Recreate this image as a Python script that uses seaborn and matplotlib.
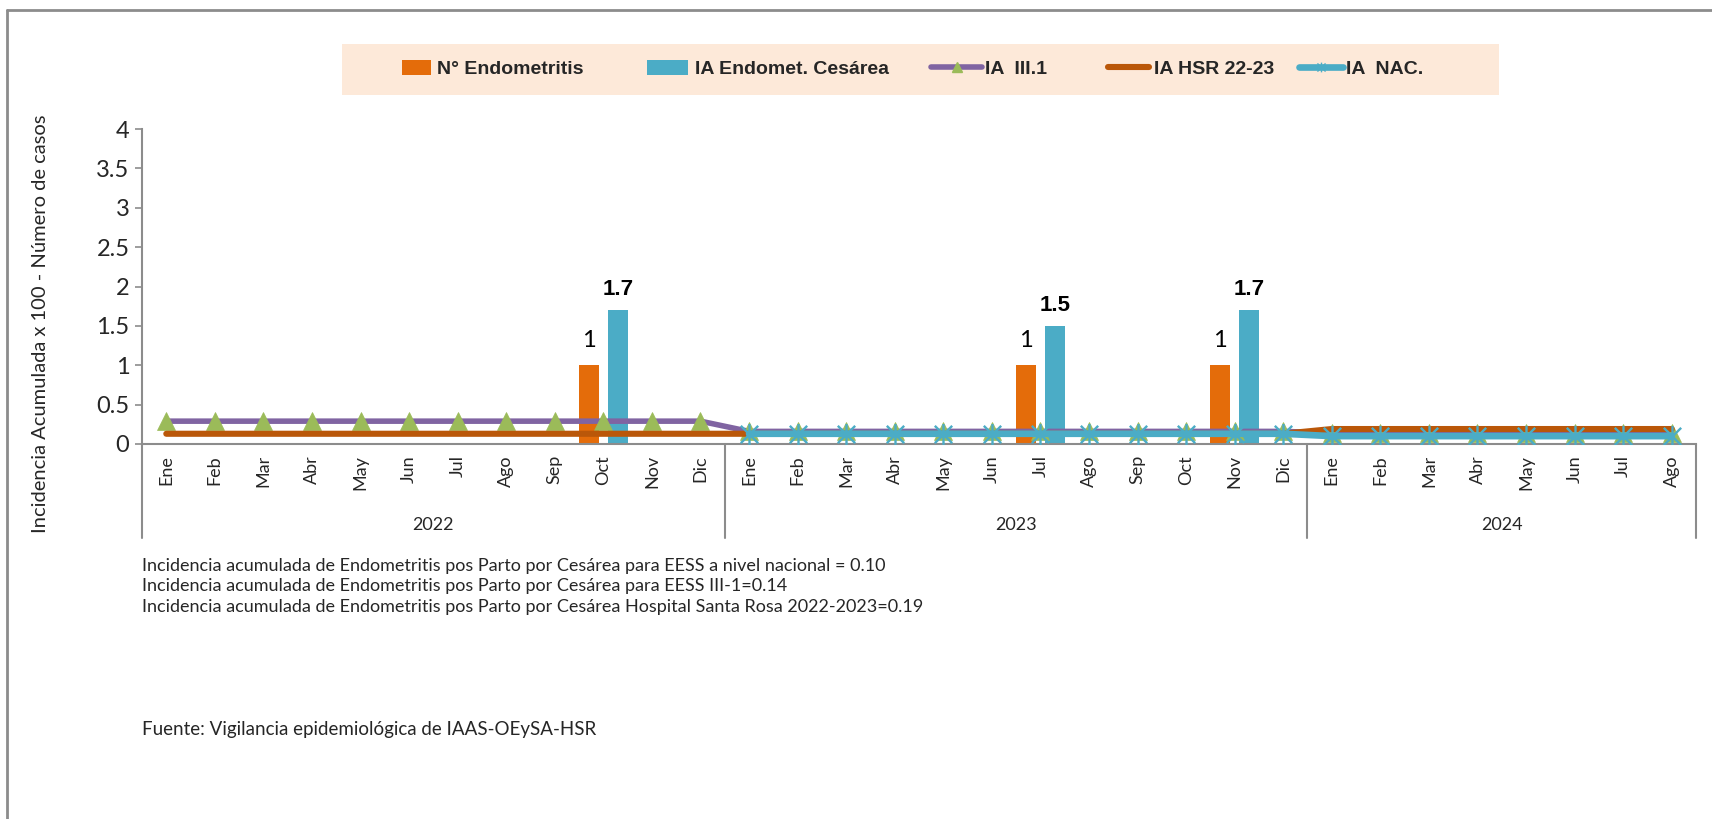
import numpy as np
import pandas as pd
import matplotlib
matplotlib.use("Agg")
import matplotlib.pyplot as plt
from matplotlib.lines import Line2D
from matplotlib.patches import Patch, Rectangle
from matplotlib.path import Path
import seaborn as sns

# ---- data -------------------------------------------------------------
meses = ["Ene", "Feb", "Mar", "Abr", "May", "Jun", "Jul", "Ago", "Sep", "Oct", "Nov", "Dic",
         "Ene", "Feb", "Mar", "Abr", "May", "Jun", "Jul", "Ago", "Sep", "Oct", "Nov", "Dic",
         "Ene", "Feb", "Mar", "Abr", "May", "Jun", "Jul", "Ago"]
anios = ["2022", "2023", "2024"]
meses_por_anio = [12, 12, 8]

n_endometritis = [0, 0, 0, 0, 0, 0, 0, 0, 0, 1, 0, 0,
                  0, 0, 0, 0, 0, 0, 1, 0, 0, 0, 1, 0,
                  0, 0, 0, 0, 0, 0, 0, 0]
ia_cesarea = [0, 0, 0, 0, 0, 0, 0, 0, 0, 1.7, 0, 0,
              0, 0, 0, 0, 0, 0, 1.5, 0, 0, 0, 1.7, 0,
              0, 0, 0, 0, 0, 0, 0, 0]
ia_iii1 = [0.29, 0.29, 0.29, 0.29, 0.29, 0.29, 0.29, 0.29, 0.29, 0.29, 0.29, 0.29,
           0.16, 0.16, 0.16, 0.16, 0.16, 0.16, 0.16, 0.16, 0.16, 0.16, 0.16, 0.16,
           0.14, 0.14, 0.14, 0.14, 0.14, 0.14, 0.14, 0.14]
ia_hsr = [0.13, 0.13, 0.13, 0.13, 0.13, 0.13, 0.13, 0.13, 0.13, 0.13, 0.13, 0.13,
          0.13, 0.13, 0.13, 0.13, 0.13, 0.13, 0.13, 0.13, 0.13, 0.13, 0.13, 0.13,
          0.19, 0.19, 0.19, 0.19, 0.19, 0.19, 0.19, 0.19]
ia_nac = [np.nan, np.nan, np.nan, np.nan, np.nan, np.nan, np.nan, np.nan, np.nan, np.nan, np.nan, np.nan,
          0.13, 0.13, 0.13, 0.13, 0.13, 0.13, 0.13, 0.13, 0.13, 0.13, 0.13, 0.13,
          0.10, 0.10, 0.10, 0.10, 0.10, 0.10, 0.10, 0.10]

series_barras = ["N° Endometritis", "IA Endomet. Cesárea"]
series_lineas = ["IA  III.1", "IA HSR 22-23", "IA  NAC."]

notas = [
    "Incidencia acumulada de Endometritis pos Parto por Cesárea para EESS a nivel nacional = 0.10",
    "Incidencia acumulada de Endometritis pos Parto por Cesárea para EESS III-1=0.14",
    "Incidencia acumulada de Endometritis pos Parto por Cesárea Hospital Santa Rosa 2022-2023=0.19",
]
fuente = "Fuente: Vigilancia epidemiológica de IAAS-OEySA-HSR"

# ---- style ------------------------------------------------------------
sns.set_theme(style="white")
plt.rcParams["font.family"] = ["Lato", "DejaVu Sans"]

c_bar_n = "#E46C0A"
c_bar_ia = "#4BACC6"
c_iii1 = "#8064A2"
c_tri = "#9BBB59"
c_hsr = "#BA5709"
c_nac = "#4BACC6"
c_axis = "#8C8C8C"

# star marker: an "x" crossed by a vertical stroke
estrella = Path([(-1, -1), (1, 1), (-1, 1), (1, -1), (0, -1.2), (0, 1.2)],
                [Path.MOVETO, Path.LINETO, Path.MOVETO, Path.LINETO, Path.MOVETO, Path.LINETO])

W, H = 1712, 819
fig = plt.figure(figsize=(W / 100, H / 100), dpi=100)
fig.patch.set_facecolor("white")

def fx(px):
    return px / W

def fy(py):
    return 1 - py / H

ax = fig.add_axes([fx(142), fy(444), fx(1696) - fx(142), fy(129) - fy(444)])

pos = np.arange(len(meses))

# ---- bars ---------------------------------------------------------------
df_barras = pd.DataFrame({
    "pos": np.concatenate([pos, pos]),
    "valor": n_endometritis + ia_cesarea,
    "serie": [series_barras[0]] * len(pos) + [series_barras[1]] * len(pos),
})
sns.barplot(data=df_barras, x="pos", y="valor", hue="serie", hue_order=series_barras,
            palette=[c_bar_n, c_bar_ia], native_scale=True, width=1.2, gap=0.33,
            errorbar=None, legend=False, linewidth=0, saturation=1, ax=ax, zorder=2)

# value labels above the bars
for cont, vals, weight in zip(ax.containers, [n_endometritis, ia_cesarea], ["normal", "bold"]):
    labels = [f"{v:g}" if v > 0 else "" for v in vals]
    ax.bar_label(cont, labels=labels, padding=10 if weight == "normal" else 7,
                 fontsize=17 if weight == "normal" else 16, fontweight=weight, color="black",
                 family=["Liberation Sans", "DejaVu Sans"] if weight == "bold" else ["Lato", "DejaVu Sans"])

# ---- lines --------------------------------------------------------------
sns.lineplot(x=pos, y=ia_iii1, color=c_iii1, lw=4, marker="^", markersize=13,
             markerfacecolor=c_tri, markeredgecolor=c_tri, markeredgewidth=0.5,
             errorbar=None, ax=ax, zorder=3)
sns.lineplot(x=pos, y=ia_hsr, color=c_hsr, lw=4.4, solid_capstyle="round",
             errorbar=None, ax=ax, zorder=4)
sns.lineplot(x=pos, y=ia_nac, color=c_nac, lw=4.8, marker=estrella, markersize=15,
             markeredgecolor=c_nac, markeredgewidth=1.7,
             errorbar=None, ax=ax, zorder=5)

# ---- axes -------------------------------------------------------------
ax.set_xlim(-0.5, len(meses) - 0.5)
ax.set_ylim(0, 4)
yt = np.arange(0, 4.01, 0.5)
ax.set_yticks(yt)
ax.set_yticklabels([f"{v:g}" for v in yt])
ax.set_xticks(pos)
ax.set_xticklabels(meses, rotation=90)
ax.tick_params(axis="y", length=5, width=1.2, color=c_axis, labelsize=17, pad=4, left=True)
ax.tick_params(axis="x", length=0, labelsize=13, pad=8)
ax.set_xlabel("")
ax.set_ylabel("")
for s in ["top", "right"]:
    ax.spines[s].set_visible(False)
for s in ["left", "bottom"]:
    ax.spines[s].set_color(c_axis)
    ax.spines[s].set_linewidth(1.5)
ax.grid(False)

# year groups under the month labels
trans = ax.get_xaxis_transform()
limites = np.concatenate([[0], np.cumsum(meses_por_anio)]) - 0.5
for b in limites:
    ax.add_line(Line2D([b, b], [0, -0.30], transform=trans, color=c_axis, lw=1.5, clip_on=False))
for a, i0, i1 in zip(anios, limites[:-1], limites[1:]):
    ax.text((i0 + i1) / 2, -0.257, a, transform=trans, ha="center", va="center", fontsize=13)

# y-axis title
fig.text(fx(41), fy(324), "Incidencia Acumulada x 100 - Número de casos", rotation=90,
         ha="center", va="center", fontsize=14.5)

# ---- legend -------------------------------------------------------------
fig.add_artist(Rectangle((fx(342), fy(95)), fx(1499) - fx(342), fy(44) - fy(95),
                         transform=fig.transFigure, facecolor="#FDE9D9", edgecolor="none", zorder=0))
handles = [
    Patch(facecolor=c_bar_n, edgecolor="none"),
    Patch(facecolor=c_bar_ia, edgecolor="none"),
    Line2D([], [], color=c_iii1, lw=4, marker="^", markersize=7, markerfacecolor=c_tri, markeredgecolor=c_tri),
    Line2D([], [], color=c_hsr, lw=4.4, solid_capstyle="round"),
    Line2D([], [], color=c_nac, lw=4.8, marker=estrella, markersize=7, markeredgecolor=c_nac),
]
nombres = series_barras + series_lineas
leg_fs = 14
leg_px = leg_fs * 100 / 72
# each entry: start of handle (px), handle length (px), start of text (px)
entradas = [(402, 29, 437), (647, 41, 695), (931, 51, 985), (1108, 41, 1154), (1299, 44, 1346)]
for h, nombre, (x0, hl, xt) in zip(handles, nombres, entradas):
    fig.legend([h], [nombre], loc="center left", bbox_to_anchor=(fx(x0), fy(69)),
               frameon=False, borderpad=0, borderaxespad=0, handlelength=hl / leg_px,
               handleheight=0.8, handletextpad=(xt - x0 - hl) / leg_px,
               prop={"family": ["Liberation Sans", "DejaVu Sans"], "weight": "bold", "size": leg_fs})

# ---- notes ----------------------------------------------------------------
for i, t in enumerate(notas):
    fig.text(fx(142), fy(566 + 20.5 * i), t, ha="left", va="center", fontsize=13)
fig.text(fx(142), fy(729), fuente, ha="left", va="center", fontsize=13.5)

# outer frame
fig.add_artist(Line2D([fx(7), 1], [fy(10), fy(10)], transform=fig.transFigure, color="#8C8C8C", lw=2))
fig.add_artist(Line2D([fx(7), fx(7)], [fy(10), 0], transform=fig.transFigure, color="#8C8C8C", lw=2))

fig.savefig("out.png", dpi=100, facecolor="white")
